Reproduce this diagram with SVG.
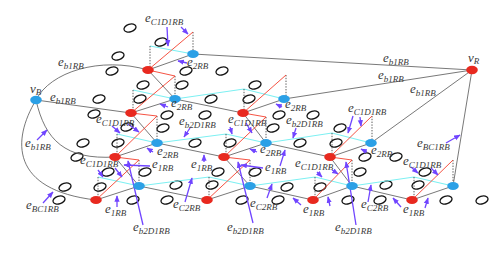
<svg xmlns="http://www.w3.org/2000/svg" xmlns:xlink="http://www.w3.org/1999/xlink" width="498" height="274" viewBox="0 0 498 274">
<style>
.r{fill:#e8291f}.b{fill:#2ba0e6}
.o{fill:none;stroke:#111;stroke-width:1.3}
.g{stroke:#555;stroke-width:.8;fill:none}
.rd{stroke:#f4402e;stroke-width:.9;fill:none}
.cy{stroke:#7df0f2;stroke-width:1.2;fill:none}
.dt{stroke:#333;stroke-width:.8;stroke-dasharray:1.4 1.4;fill:none}
.p{stroke:#7045ff;stroke-width:1.3;fill:none;marker-end:url(#ah)}
text{font-family:"Liberation Serif","DejaVu Serif",serif;font-style:italic;fill:#3a3a3a;font-size:13px}
.s{font-size:9px}
</style>
<defs>
<marker id="ah" viewBox="0 0 10 10" refX="9" refY="5" markerWidth="5" markerHeight="5" orient="auto"><path d="M0,1 L10,5 L0,9 z" fill="#7045ff"/></marker>
<ellipse id="o" class="o" rx="6.2" ry="3.9" transform="rotate(-18)"/>
</defs>
<rect width="498" height="274" fill="#fff"/>
<g id="rings">
<use xlink:href="#o" x="130" y="28"/><use xlink:href="#o" x="161" y="42"/><use xlink:href="#o" x="118" y="56"/>
<use xlink:href="#o" x="112" y="71"/><use xlink:href="#o" x="186" y="71"/><use xlink:href="#o" x="222" y="71"/>
<use xlink:href="#o" x="143" y="85"/><use xlink:href="#o" x="182" y="85"/><use xlink:href="#o" x="255" y="85"/>
<use xlink:href="#o" x="99" y="99"/><use xlink:href="#o" x="140" y="99"/><use xlink:href="#o" x="211" y="99"/><use xlink:href="#o" x="249" y="99"/>
<use xlink:href="#o" x="94" y="114"/><use xlink:href="#o" x="167" y="115"/><use xlink:href="#o" x="205" y="115"/><use xlink:href="#o" x="279" y="115"/><use xlink:href="#o" x="313" y="115"/>
<use xlink:href="#o" x="127" y="127"/><use xlink:href="#o" x="163" y="128"/><use xlink:href="#o" x="273" y="128"/><use xlink:href="#o" x="340" y="128"/>
<use xlink:href="#o" x="83" y="143"/><use xlink:href="#o" x="118" y="143"/><use xlink:href="#o" x="195" y="143"/><use xlink:href="#o" x="230" y="143"/><use xlink:href="#o" x="300" y="143"/><use xlink:href="#o" x="336" y="143"/>
<use xlink:href="#o" x="77" y="157"/><use xlink:href="#o" x="365" y="157"/><use xlink:href="#o" x="396" y="157"/>
<use xlink:href="#o" x="108" y="172"/><use xlink:href="#o" x="145" y="172"/><use xlink:href="#o" x="218" y="172"/><use xlink:href="#o" x="255" y="172"/><use xlink:href="#o" x="360" y="172"/><use xlink:href="#o" x="425" y="172"/>
<use xlink:href="#o" x="65" y="187"/><use xlink:href="#o" x="100" y="187"/><use xlink:href="#o" x="176" y="185"/><use xlink:href="#o" x="212" y="185"/><use xlink:href="#o" x="287" y="187"/><use xlink:href="#o" x="320" y="187"/><use xlink:href="#o" x="386" y="185"/><use xlink:href="#o" x="418" y="185"/>
<use xlink:href="#o" x="59" y="200"/><use xlink:href="#o" x="133" y="200"/><use xlink:href="#o" x="167" y="200"/><use xlink:href="#o" x="242" y="200"/><use xlink:href="#o" x="278" y="200"/><use xlink:href="#o" x="348" y="200"/><use xlink:href="#o" x="380" y="200"/><use xlink:href="#o" x="446" y="200"/><use xlink:href="#o" x="482" y="200"/>
</g>
<g id="connectors">
<path class="g" d="M36,100 C50,72 100,56 148,70"/>
<path class="g" d="M36,100 C45,140 65,160 115,157"/>
<path class="g" d="M36,100 C12,140 10,190 96,200"/>
<path class="g" d="M36,100 L131,113 L175,99 L243,113 L284,99 L472,70"/>
<path class="g" d="M148,70 L193,54 L472,70"/>
<path class="g" d="M115,157 L157,143 L224,157 L266,143 L330,157 L371,143 L472,70"/>
<path class="g" d="M96,200 L139,186 L207,200 L250,186 L313,200 L352,186 L412,200 L453,186 L472,70"/>
<path class="g" d="M148,70 L175,99 M131,113 L157,143 M115,157 L139,186 M243,113 L266,143 M224,157 L250,186 M330,157 L352,186"/>
<path class="cy" d="M150,46 L193,54"/>
<path class="cy" d="M133,90 L175,99 L244,89 L284,99"/>
<path class="cy" d="M117,134 L157,143 L226,134 L266,143 L332,133 L371,143"/>
<path class="cy" d="M98,177 L139,186 L209,177 L250,186 L315,177 L352,186 L414,177 L453,186"/>
<path class="dt" d="M193,32 V54 M150,46 V70 M175,76 V99 M133,90 V113 M286,75 V99 M244,89 V113 M157,116 V143 M117,134 V157 M266,117 V143 M226,134 V157 M372,116 V143 M332,133 V157 M139,160 V186 M98,177 V200 M250,160 V186 M209,177 V200 M352,160 V186 M315,177 V200 M453,160 V186 M414,177 V200"/>
<path class="rd" d="M148,70 L193,32 M148,70 L175,76 L131,113 L157,116 L115,157 L139,160 L96,200"/>
<path class="rd" d="M243,113 L286,75 M243,113 L266,117 L224,157 L250,160 L207,200"/>
<path class="rd" d="M330,157 L372,116 M330,157 L352,160 L313,200"/>
<path class="rd" d="M412,200 L453,160"/>
<path class="p" d="M167,27 L168,46"/><path class="p" d="M181,27 L188,34"/>
<path class="p" d="M187,63 L178,61"/><path class="p" d="M168,107 L160,104"/>
<path class="p" d="M190,128 L184,137"/>
<path class="p" d="M112,126 L120,133"/><path class="p" d="M128,124 L139,132"/>
<path class="p" d="M230,127 L232,134"/><path class="p" d="M246,123 L252,133"/>
<path class="p" d="M282,107 L276,104"/><path class="p" d="M296,128 L293,138"/>
<path class="p" d="M353,116 L348,133"/><path class="p" d="M360,117 L361,126"/>
<path class="p" d="M37,140 L47,130"/>
<path class="p" d="M98,170 L103,177"/><path class="p" d="M115,168 L122,177"/>
<path class="p" d="M153,152 L147,148"/>
<path class="p" d="M150,166 L124,165"/>
<path class="p" d="M204,162 L204,155"/>
<path class="p" d="M257,152 L250,149"/>
<path class="p" d="M263,168 L241,165"/>
<path class="p" d="M280,166 L285,150"/>
<path class="p" d="M317,172 L322,177"/><path class="p" d="M332,170 L338,174"/>
<path class="p" d="M367,152 L361,149"/>
<path class="p" d="M446,143 L460,135"/>
<path class="p" d="M411,167 L418,173"/><path class="p" d="M431,168 L438,175"/>
<path class="p" d="M43,203 L53,192"/>
<path class="p" d="M117,207 L117,196"/>
<path class="p" d="M143,225 L128,161"/>
<path class="p" d="M185,202 L192,178"/>
<path class="p" d="M253,223 L238,162"/>
<path class="p" d="M267,198 L272,184"/>
<path class="p" d="M301,205 L293,198"/><path class="p" d="M330,206 L328,197"/>
<path class="p" d="M368,202 L371,185"/>
<path class="p" d="M356,225 L346,162"/>
<path class="p" d="M401,207 L393,198"/><path class="p" d="M425,208 L428,198"/>
</g>
<g id="vB"><ellipse class="b" cx="36" cy="100" rx="5.8" ry="4.2"/></g>
<g id="vR"><ellipse class="r" cx="472" cy="70" rx="5.8" ry="4.2"/></g>
<g id="R1"><ellipse class="r" cx="148" cy="70" rx="5.8" ry="4"/></g>
<g id="B1"><ellipse class="b" cx="193" cy="54" rx="5.8" ry="4"/></g>
<g id="R2a"><ellipse class="r" cx="131" cy="113" rx="5.8" ry="4"/></g>
<g id="B2a"><ellipse class="b" cx="175" cy="99" rx="5.8" ry="4"/></g>
<g id="R2b"><ellipse class="r" cx="243" cy="113" rx="5.8" ry="4"/></g>
<g id="B2b"><ellipse class="b" cx="284" cy="99" rx="5.8" ry="4"/></g>
<g id="R3a"><ellipse class="r" cx="115" cy="157" rx="5.8" ry="4"/></g>
<g id="B3a"><ellipse class="b" cx="157" cy="143" rx="5.8" ry="4"/></g>
<g id="R3b"><ellipse class="r" cx="224" cy="157" rx="5.8" ry="4"/></g>
<g id="B3b"><ellipse class="b" cx="266" cy="143" rx="5.8" ry="4"/></g>
<g id="R3c"><ellipse class="r" cx="330" cy="157" rx="5.8" ry="4"/></g>
<g id="B3c"><ellipse class="b" cx="371" cy="143" rx="5.8" ry="4"/></g>
<g id="R4a"><ellipse class="r" cx="96" cy="200" rx="5.8" ry="4"/></g>
<g id="B4a"><ellipse class="b" cx="139" cy="186" rx="5.8" ry="4"/></g>
<g id="R4b"><ellipse class="r" cx="207" cy="200" rx="5.8" ry="4"/></g>
<g id="B4b"><ellipse class="b" cx="250" cy="186" rx="5.8" ry="4"/></g>
<g id="R4c"><ellipse class="r" cx="313" cy="200" rx="5.8" ry="4"/></g>
<g id="B4c"><ellipse class="b" cx="352" cy="186" rx="5.8" ry="4"/></g>
<g id="R4d"><ellipse class="r" cx="412" cy="200" rx="5.8" ry="4"/></g>
<g id="B4d"><ellipse class="b" cx="453" cy="186" rx="5.8" ry="4"/></g>
<g id="labels">
<text x="30" y="93">v<tspan class="s" dy="2">B</tspan></text>
<text x="468" y="62">v<tspan class="s" dy="2">R</tspan></text>
<text x="145" y="22">e<tspan class="s" dy="3">C1D1RB</tspan></text>
<text x="58" y="66">e<tspan class="s" dy="3">b1RB</tspan></text>
<text x="50" y="101">e<tspan class="s" dy="3">b1RB</tspan></text>
<text x="187" y="66">e<tspan class="s" dy="3">2RB</tspan></text>
<text x="383" y="62">e<tspan class="s" dy="3">b1RB</tspan></text>
<text x="378" y="79">e<tspan class="s" dy="3">b1RB</tspan></text>
<text x="410" y="93">e<tspan class="s" dy="3">b1RB</tspan></text>
<text x="96" y="123">e<tspan class="s" dy="3">C1D1RB</tspan></text>
<text x="171" y="107">e<tspan class="s" dy="3">2RB</tspan></text>
<text x="179" y="125">e<tspan class="s" dy="3">b2D1RB</tspan></text>
<text x="228" y="123">e<tspan class="s" dy="3">C1D1RB</tspan></text>
<text x="285" y="108">e<tspan class="s" dy="3">2RB</tspan></text>
<text x="286" y="124">e<tspan class="s" dy="3">b2D1RB</tspan></text>
<text x="348" y="112">e<tspan class="s" dy="3">C1D1RB</tspan></text>
<text x="25" y="147">e<tspan class="s" dy="3">b1RB</tspan></text>
<text x="80" y="164">e<tspan class="s" dy="3">C1D1RB</tspan></text>
<text x="157" y="155">e<tspan class="s" dy="3">2RB</tspan></text>
<text x="152" y="168">e<tspan class="s" dy="3">1RB</tspan></text>
<text x="191" y="168">e<tspan class="s" dy="3">1RB</tspan></text>
<text x="260" y="153">e<tspan class="s" dy="3">2RB</tspan></text>
<text x="265" y="171">e<tspan class="s" dy="3">1RB</tspan></text>
<text x="295" y="167">e<tspan class="s" dy="3">C1D1RB</tspan></text>
<text x="371" y="154">e<tspan class="s" dy="3">2RB</tspan></text>
<text x="417" y="147">e<tspan class="s" dy="3">BC1RB</tspan></text>
<text x="403" y="165">e<tspan class="s" dy="3">C1D1RB</tspan></text>
<text x="26" y="209">e<tspan class="s" dy="3">BC1RB</tspan></text>
<text x="105" y="213">e<tspan class="s" dy="3">1RB</tspan></text>
<text x="133" y="231">e<tspan class="s" dy="3">b2D1RB</tspan></text>
<text x="173" y="208">e<tspan class="s" dy="3">C2RB</tspan></text>
<text x="227" y="231">e<tspan class="s" dy="3">b2D1RB</tspan></text>
<text x="250" y="207">e<tspan class="s" dy="3">C2RB</tspan></text>
<text x="303" y="213">e<tspan class="s" dy="3">1RB</tspan></text>
<text x="361" y="208">e<tspan class="s" dy="3">C2RB</tspan></text>
<text x="335" y="231">e<tspan class="s" dy="3">b2D1RB</tspan></text>
<text x="403" y="213">e<tspan class="s" dy="3">1RB</tspan></text>
</g>
</svg>
